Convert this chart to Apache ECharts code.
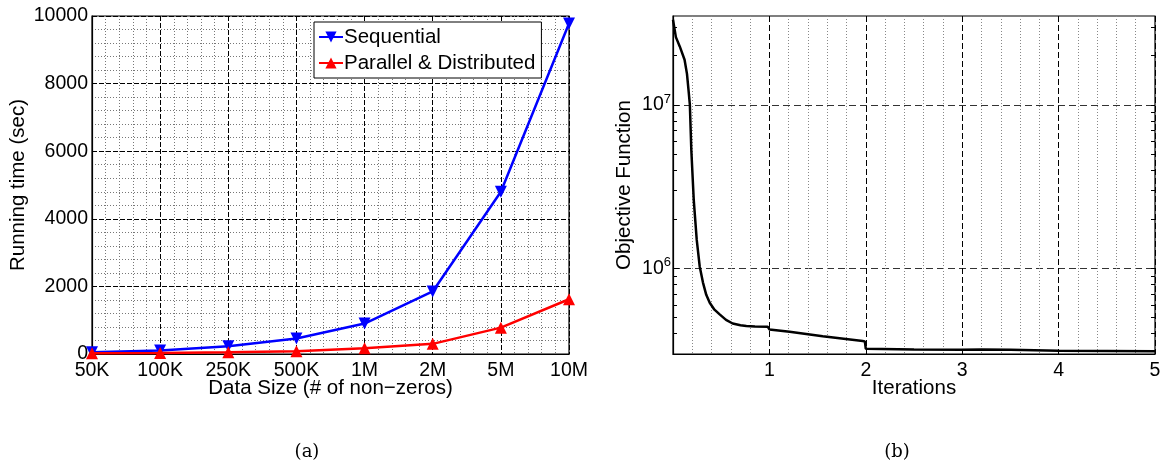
<!DOCTYPE html>
<html>
<head>
<meta charset="utf-8">
<script src="https://cdn.jsdelivr.net/npm/echarts@6/dist/echarts.min.js"></script>
<style>html,body{margin:0;padding:0;background:#fff}#c{width:1165px;height:465px}</style>
</head>
<body>
<div id="c"></div>
<script>
// ---- data (a) ----
const categories = ['50K', '100K', '250K', '500K', '1M', '2M', '5M', '10M'];
const sequential = [50, 100, 230, 460, 900, 1850, 4800, 9780];
const parallel = [20, 30, 50, 80, 170, 300, 780, 1620];
const yTicksA = [0, 2000, 4000, 6000, 8000, 10000];
// ---- data (b) ----
const iterX = [0, 0.03, 0.07, 0.12, 0.145, 0.163, 0.175, 0.19, 0.215, 0.246, 0.277, 0.311, 0.345, 0.381, 0.43, 0.484, 0.55, 0.619, 0.7, 0.761, 0.85, 0.982, 1.0, 1.21, 1.553, 1.968, 1.99, 2.0, 2.5, 2.99, 3.0, 3.2, 3.5, 4.0, 4.5, 5.0];
const objVal = [3.32e7, 2.6e7, 2.28e7, 1.89e7, 1.55e7, 1.2e7, 1.0e7, 5.3e6, 2.64e6, 1.5e6, 1.03e6, 8.2e5, 6.9e5, 6.17e5, 5.6e5, 5.24e5, 4.85e5, 4.61e5, 4.5e5, 4.45e5, 4.42e5, 4.41e5, 4.24e5, 4.1e5, 3.85e5, 3.6e5, 3.58e5, 3.23e5, 3.2e5, 3.19e5, 3.24e5, 3.2e5, 3.18e5, 3.14e5, 3.13e5, 3.12e5];
const xTicksB = [1, 2, 3, 4, 5];
const logMajor = [1e6, 1e7];
const logMinor = [4e5, 5e5, 6e5, 7e5, 8e5, 9e5, 2e6, 3e6, 4e6, 5e6, 6e6, 7e6, 8e6, 9e6, 2e7, 3e7];

const FONT = 'Liberation Sans';
const TICK_FS = 19.5, NAME_FS = 20.5;
const chart = echarts.init(document.getElementById('c'), null, {renderer: 'canvas'});

const majorLine = {show: true, lineStyle: {color: '#000', width: 1, type: [5, 2]}};
const minorLine = {show: true, lineStyle: {color: '#777', width: 1, type: [1, 2]}};

function logAxis(extra) {
  return Object.assign({
    type: 'log', gridIndex: 1, min: 3.0e5, max: 3.5e7, logBase: 10,
    axisLine: {show: false}, axisLabel: {show: false}, splitLine: {show: false}
  }, extra);
}

chart.setOption({
  animation: false,
  textStyle: {fontFamily: FONT},
  grid: [
    {left: 92, top: 16, width: 477, height: 338, show: true, borderColor: '#000', borderWidth: 1.2, backgroundColor: 'transparent'},
    {left: 673, top: 16, width: 482, height: 338, show: true, borderColor: '#000', borderWidth: 1.2, backgroundColor: 'transparent'}
  ],
  title: [
    {text: '(a)', left: 302, top: 438, textAlign: 'center', textStyle: {fontFamily: 'DejaVu Serif', fontWeight: 'normal', fontSize: 18, color: '#000'}},
    {text: '(b)', left: 892, top: 438, textAlign: 'center', textStyle: {fontFamily: 'DejaVu Serif', fontWeight: 'normal', fontSize: 18, color: '#000'}}
  ],
  legend: {
    show: true, orient: 'vertical', left: 314, top: 22,
    backgroundColor: '#fff', borderColor: '#000', borderWidth: 1,
    padding: [4, 6, 4, 4], itemWidth: 24, itemHeight: 14, itemGap: 4,
    textStyle: {fontFamily: FONT, fontSize: 20.5, color: '#000', lineHeight: 22, padding: [0, 0, 0, -4]},
    data: ['Sequential', 'Parallel & Distributed']
  },
  xAxis: [
    {
      type: 'value', gridIndex: 0, min: 0, max: 7, interval: 1,
      axisLine: {show: true, lineStyle: {color: '#000', width: 1.2}},
      axisTick: {show: false},
      axisLabel: {color: '#000', fontSize: TICK_FS, margin: 7, formatter: v => categories[v] || ''},
      splitLine: majorLine,
      minorTick: {show: false, splitNumber: 5},
      minorSplitLine: minorLine,
      name: 'Data Size (# of non\u2212zeros)', nameLocation: 'middle', nameGap: 24, nameMoveOverlap: false,
      nameTextStyle: {color: '#000', fontSize: NAME_FS}
    },
    {
      type: 'value', gridIndex: 1, min: 0, max: 5, interval: 1,
      axisLine: {show: true, lineStyle: {color: '#000', width: 1.2}},
      axisTick: {show: true, inside: true, length: 5, lineStyle: {color: '#000'}},
      axisLabel: {color: '#000', fontSize: TICK_FS, margin: 7, formatter: v => (xTicksB.indexOf(v) >= 0 ? String(v) : '')},
      splitLine: {show: true, lineStyle: {color: '#000', width: 1, type: [6, 3]}},
      minorTick: {show: false, splitNumber: 5},
      minorSplitLine: {show: true, lineStyle: {color: '#888', width: 1, type: [1, 2]}},
      name: 'Iterations', nameLocation: 'middle', nameGap: 24, nameMoveOverlap: false,
      nameTextStyle: {color: '#000', fontSize: NAME_FS}
    }
  ],
  yAxis: [
    {
      type: 'value', gridIndex: 0, min: 0, max: 10000, interval: 2000,
      axisLine: {show: true, lineStyle: {color: '#000', width: 1.2}},
      axisTick: {show: false},
      axisLabel: {color: '#000', fontSize: TICK_FS, margin: 4, formatter: v => (yTicksA.indexOf(v) >= 0 ? String(v) : '')},
      splitLine: majorLine,
      minorTick: {show: false, splitNumber: 5},
      minorSplitLine: minorLine,
      name: 'Running time (sec)', nameLocation: 'middle', nameGap: 63, nameMoveOverlap: false,
      nameTextStyle: {color: '#000', fontSize: NAME_FS}
    },
    logAxis({
      position: 'left',
      axisLine: {show: true, lineStyle: {color: '#000', width: 1.2}},
      axisTick: {show: true, inside: true, length: 6, customValues: logMajor, lineStyle: {color: '#000'}},
      axisLabel: {
        show: true, margin: 2, customValues: logMajor, color: '#000',
        formatter: v => '{b|10}{s|' + Math.round(Math.log10(v)) + '}',
        rich: {b: {fontSize: TICK_FS, color: '#000', fontFamily: FONT}, s: {fontSize: 13, color: '#000', fontFamily: FONT, padding: [0, 0, 12, 0]}}
      },
      splitLine: {show: true, lineStyle: {color: '#333', width: 1, type: [7, 4]}},
      name: 'Objective Function', nameLocation: 'middle', nameGap: 38, nameMoveOverlap: false,
      nameTextStyle: {color: '#000', fontSize: NAME_FS}
    }),
    logAxis({
      position: 'left',
      axisTick: {show: true, inside: true, length: 4, customValues: logMinor, lineStyle: {color: '#000'}}
    }),
    logAxis({
      position: 'right',
      axisTick: {show: true, inside: true, length: 4, customValues: logMinor.concat(logMajor), lineStyle: {color: '#000'}}
    })
  ],
  series: [
    {
      name: 'Sequential', type: 'line', xAxisIndex: 0, yAxisIndex: 0,
      data: categories.map((c, i) => [i, sequential[i]]),
      symbol: 'triangle', symbolRotate: 180, symbolSize: 12,
      lineStyle: {color: '#0000ff', width: 2.5}, itemStyle: {color: '#0000ff'}, z: 3
    },
    {
      name: 'Parallel & Distributed', type: 'line', xAxisIndex: 0, yAxisIndex: 0,
      data: categories.map((c, i) => [i, parallel[i]]),
      symbol: 'triangle', symbolSize: 12,
      lineStyle: {color: '#ff0000', width: 2.5}, itemStyle: {color: '#ff0000'}, z: 4
    },
    {
      name: 'Objective', type: 'line', xAxisIndex: 1, yAxisIndex: 1,
      data: iterX.map((x, i) => [x, objVal[i]]),
      showSymbol: false, symbol: 'none',
      lineStyle: {color: '#000', width: 2.5}, itemStyle: {color: '#000'}
    }
  ]
});
</script>
</body>
</html>
